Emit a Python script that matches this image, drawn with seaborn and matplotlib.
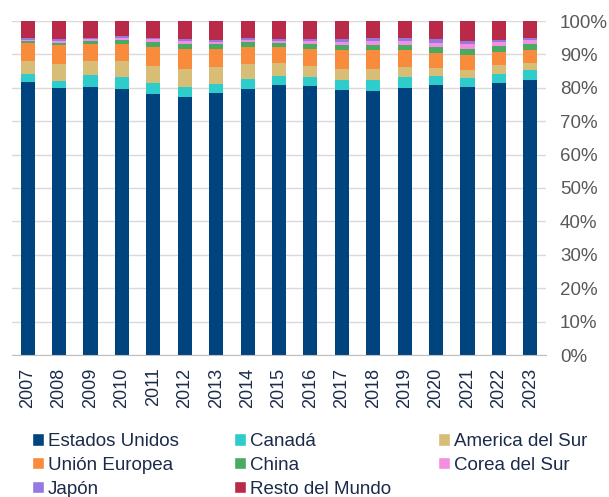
import numpy as np
import pandas as pd
import matplotlib
matplotlib.use("Agg")
import matplotlib.pyplot as plt
from matplotlib.patches import Patch
from matplotlib.ticker import FixedLocator, PercentFormatter
import seaborn as sns

# Shares per year (%)
years = [str(y) for y in range(2007, 2024)]
estados_unidos = [81.8, 79.8, 80.2, 79.6, 78.2, 77.2, 78.5, 79.7, 80.7, 80.5, 79.4, 79.1, 80.0, 80.8, 80.2, 81.4, 82.2]
canada = [2.3, 2.3, 3.6, 3.5, 3.1, 3.0, 2.7, 2.9, 2.9, 2.8, 2.8, 3.1, 3.2, 2.8, 2.6, 2.7, 3.1]
america_sur = [4.0, 4.9, 4.3, 5.0, 5.3, 5.4, 5.0, 4.4, 3.8, 3.3, 3.4, 3.4, 2.9, 2.3, 2.6, 2.6, 2.1]
union_europea = [5.4, 5.9, 5.1, 5.0, 5.6, 6.0, 5.3, 5.2, 4.8, 5.0, 5.8, 5.7, 5.2, 4.4, 4.5, 3.9, 4.0]
china = [0.6, 0.6, 0.8, 1.3, 1.6, 1.6, 1.7, 1.4, 1.3, 1.6, 1.5, 1.6, 1.6, 1.9, 1.8, 1.9, 1.8]
corea_sur = [0.3, 0.4, 0.5, 0.5, 0.7, 0.7, 0.6, 0.7, 0.6, 0.7, 0.9, 1.0, 1.2, 1.3, 1.4, 1.2, 1.1]
japon = [0.5, 0.6, 0.5, 0.6, 0.4, 0.6, 0.5, 0.6, 0.5, 0.6, 0.9, 0.9, 0.8, 1.0, 0.9, 0.7, 0.5]

series = {
    "Estados Unidos": estados_unidos,
    "Canadá": canada,
    "America del Sur": america_sur,
    "Unión Europea": union_europea,
    "China": china,
    "Corea del Sur": corea_sur,
    "Japón": japon,
}
df = pd.DataFrame(series, index=years)
df["Resto del Mundo"] = 100 - df.sum(axis=1)

colors = {
    "Estados Unidos": "#00447f",
    "Canadá": "#2ecdcc",
    "America del Sur": "#d8bd76",
    "Unión Europea": "#f98b3c",
    "China": "#48ab62",
    "Corea del Sur": "#f48ee0",
    "Japón": "#9379e0",
    "Resto del Mundo": "#b82a48",
}

sns.set_style("white")
plt.rcParams["font.family"] = ["Liberation Sans", "DejaVu Sans"]

fig = plt.figure(figsize=(6.09, 4.97), dpi=100)
ax = fig.add_axes([12 / 609, 1 - 355 / 497, 534 / 609, 334 / 497])

# stacked bars: draw cumulative totals from the top layer down
cum = df.cumsum(axis=1)
for name in reversed(df.columns):
    sns.barplot(x=cum.index, y=cum[name].values, color=colors[name],
                width=0.45, ax=ax, saturation=1, zorder=3,
                linewidth=0, edgecolor="none")

ax.set_ylim(0, 100)
ax.set_xlim(-0.5, len(years) - 0.5)
ax.yaxis.tick_right()
ax.yaxis.set_major_locator(FixedLocator(np.arange(0, 101, 10)))
ax.yaxis.set_major_formatter(PercentFormatter(decimals=0))
ax.tick_params(axis="y", length=0, pad=10, labelsize=13.5, labelcolor="#595959")
ax.grid(axis="y", color="#d9d9d9", linewidth=1, zorder=0)
ax.set_axisbelow(True)

ax.set_xlabel("")
ax.set_ylabel("")
ax.tick_params(axis="x", which="major", length=0, pad=9, labelsize=13,
               labelcolor="#1c2b4a", labelrotation=90)
ax.xaxis.set_minor_locator(FixedLocator(np.arange(-0.5, len(years), 1)))
ax.tick_params(axis="x", which="minor", length=6, color="#bfbfbf", width=1)

for side in ["top", "left", "right"]:
    ax.spines[side].set_visible(False)
ax.spines["bottom"].set_color("#bfbfbf")
ax.spines["bottom"].set_zorder(4)

# legend in three equal-width columns
columns = [["Estados Unidos", "Unión Europea", "Japón"],
           ["Canadá", "China", "Resto del Mundo"],
           ["America del Sur", "Corea del Sur"]]
col_x = [32, 234, 438]
for names, x in zip(columns, col_x):
    handles = [Patch(facecolor=colors[n], label=n) for n in names]
    fig.legend(handles=handles, loc="upper left",
               bbox_to_anchor=(x / 609, 1 - 433 / 497), frameon=False,
               fontsize=13.5, labelcolor="#1c2b4a", handlelength=0.65,
               handleheight=0.65, handletextpad=0.2,
               labelspacing=0.36, borderaxespad=0, borderpad=0)

fig.savefig("out.png", dpi=100)
